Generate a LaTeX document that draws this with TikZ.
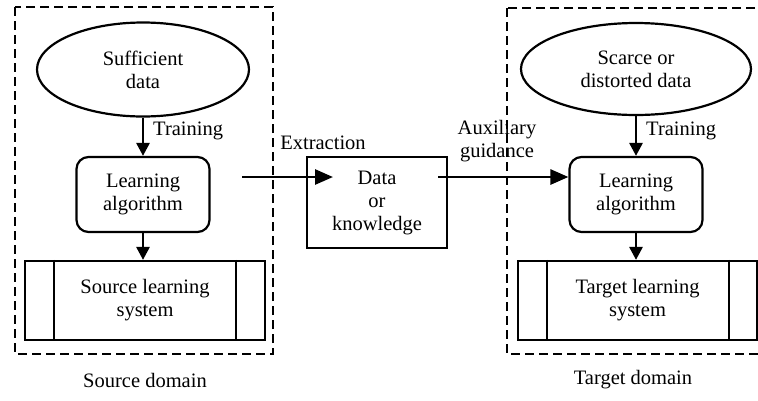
\documentclass[tikz,border=0pt]{standalone}
\usepackage{fontspec}
\setmainfont{Liberation Serif}
\usetikzlibrary{shapes.geometric,arrows.meta}
\begin{document}
\begin{tikzpicture}[x=1pt,y=-1pt,
  every node/.style={font=\fontsize{20.5}{23}\selectfont, align=center, inner sep=0pt},
  border/.style={draw, line width=2.2pt},
  dataell/.style={border, ellipse, minimum width=212pt, minimum height=94pt},
  algbox/.style={border, rectangle, rounded corners=12pt, minimum width=133pt, minimum height=75pt},
  sysbox/.style={border, rectangle, minimum width=240pt, minimum height=79pt},
  knowbox/.style={border, rectangle, minimum width=140pt, minimum height=91pt},
  frameline/.style={line width=2.2pt, dash pattern=on 9pt off 5pt},
  arr/.style={line width=2.8pt, -{Triangle[length=13pt,width=13pt]}},
  bigarr/.style={line width=2.8pt, -{Triangle[length=18pt,width=15pt]}}
]
\useasboundingbox (0,0) rectangle (758,400);
\clip (0,0) rectangle (758,400);

% domain frames
\draw[frameline] (15,7) rectangle (273,354);
\draw[frameline] (507,8) rectangle (775,354);

% source side
\node[dataell] (sdata) at (143,69.5) {Sufficient\\data};
\node[algbox] (salg) at (143,194.5) {Learning\\algorithm};
\node[sysbox] (ssys) at (145,300.5) {Source learning\\system};
\draw[line width=2.2pt] ([xshift=30pt]ssys.north west) -- ([xshift=30pt]ssys.south west);
\draw[line width=2.2pt] ([xshift=-30pt]ssys.north east) -- ([xshift=-30pt]ssys.south east);
\draw[arr] (sdata.south) -- (salg.north);
\draw[arr] (salg.south) -- (salg.south |- ssys.north);
\node[anchor=west] (strain) at (153,131) {Training};
\node (sdom) at (145,380) {Source domain};

% transferred data / knowledge
\node[knowbox] (know) at (377,202.5) {Data\\or\\knowledge};
\coordinate (extA) at (242,177);
\coordinate (extB) at (333,177);
\draw[bigarr] (extA) -- (extB);
\node (extr) at (323,143) {Extraction};

% target side
\node[dataell, minimum width=230pt, minimum height=92pt] (tdata) at (636,69) {Scarce or\\distorted data};
\node[algbox] (talg) at (636,194.5) {Learning\\algorithm};
\node[sysbox, minimum width=239pt] (tsys) at (637.5,300.5) {Target learning\\system};
\draw[line width=2.2pt] ([xshift=30pt]tsys.north west) -- ([xshift=30pt]tsys.south west);
\draw[line width=2.2pt] ([xshift=-29pt]tsys.north east) -- ([xshift=-29pt]tsys.south east);
\draw[arr] (tdata.south) -- (talg.north);
\draw[arr] (talg.south) -- (talg.south |- tsys.north);
\node[anchor=west] (ttrain) at (646,131) {Training};
\node (tdom) at (633,380) {Target domain};

\coordinate (auxA) at (438,177);
\draw[bigarr] (auxA) -- (talg.west |- auxA);
\node (aux) at (497,141.5) {Auxiliary\\guidance};
\end{tikzpicture}
\end{document}
